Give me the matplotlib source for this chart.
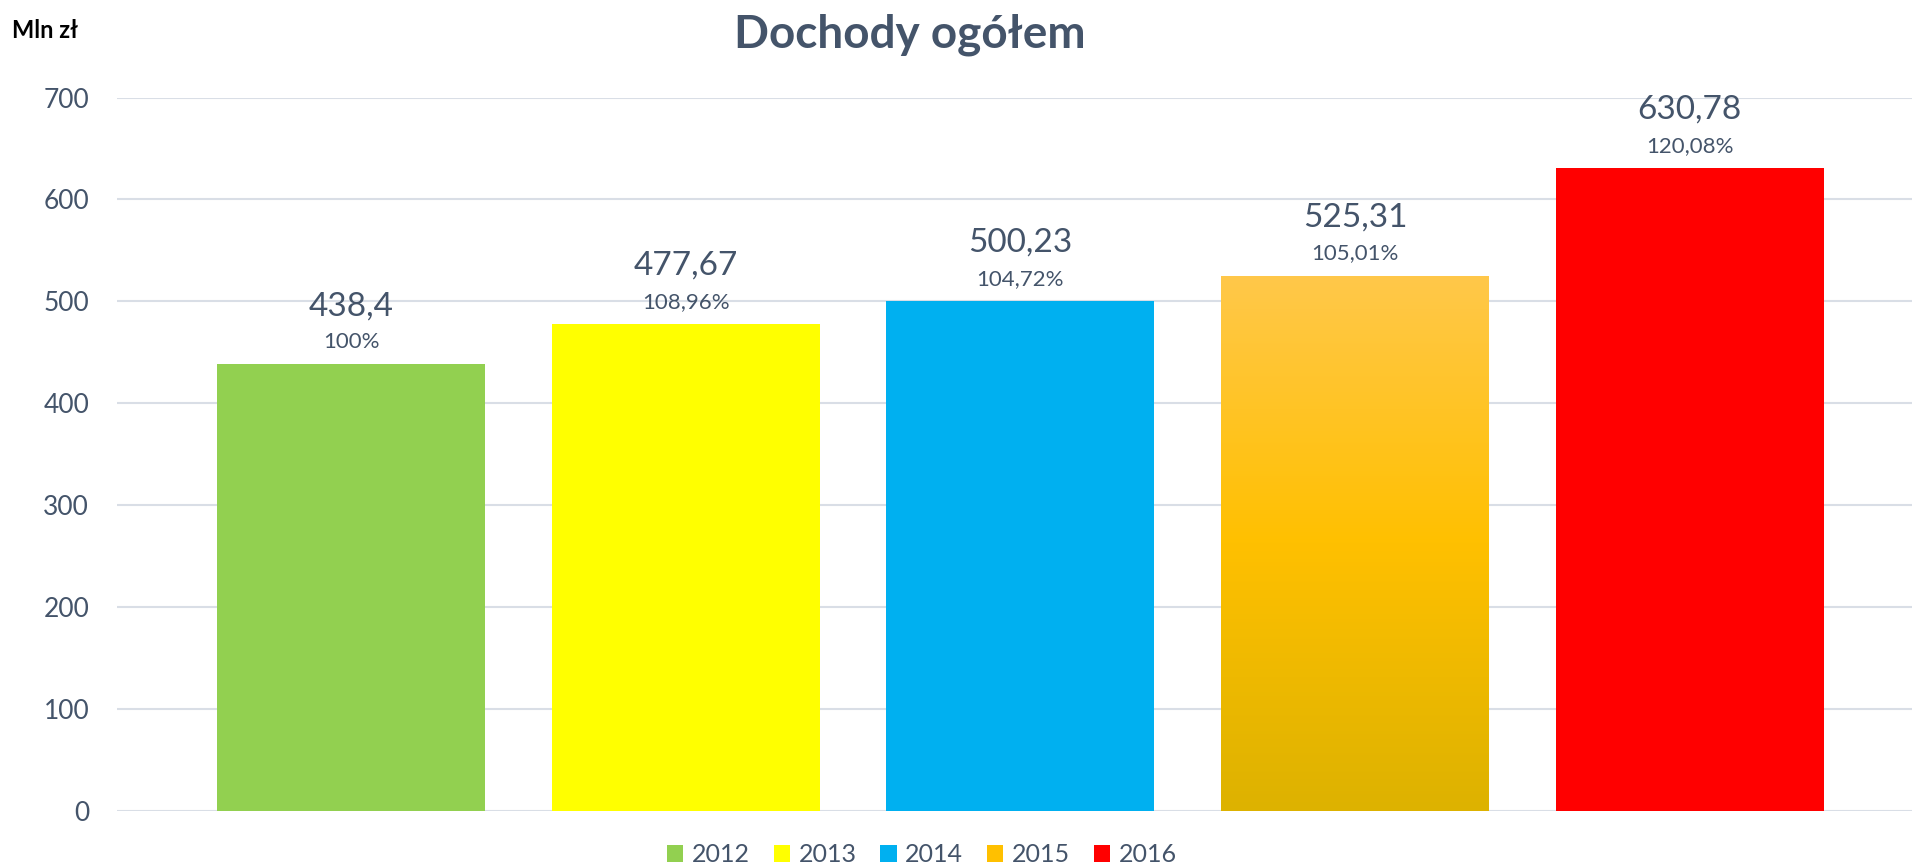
import numpy as np
import matplotlib
matplotlib.use("Agg")
import matplotlib.pyplot as plt
from matplotlib.patches import Patch
from matplotlib.colors import LinearSegmentedColormap

years = ["2012", "2013", "2014", "2015", "2016"]
values = [438.4, 477.67, 500.23, 525.31, 630.78]
value_labels = ["438,4", "477,67", "500,23", "525,31", "630,78"]
pct_labels = ["100%", "108,96%", "104,72%", "105,01%", "120,08%"]
colors = ["#92D050", "#FFFF00", "#00B0F0", "#FFC000", "#FF0000"]

text_col = "#44546A"
plt.rcParams["font.family"] = ["Lato", "DejaVu Sans"]

fig = plt.figure(figsize=(19.12, 8.68), dpi=100)
ax = fig.add_axes([117 / 1912, (868 - 811) / 868, (1912 - 117) / 1912, (811 - 97.5) / 868])

x = np.arange(len(years))
bars = ax.bar(x, values, width=0.8, color=colors, zorder=2)

# gradient fill for 2015
grad = LinearSegmentedColormap.from_list("g", ["#DDB200", "#FFC000", "#FFC84A"])
b = bars[3]
b.set_facecolor("none")
img = ax.imshow(np.linspace(0, 1, 256).reshape(-1, 1), cmap=grad, origin="lower",
                aspect="auto", extent=[b.get_x(), b.get_x() + b.get_width(), 0, b.get_height()],
                zorder=2)
img.set_clip_path(b)

for i, v in enumerate(values):
    ax.text(x[i], v + 57, value_labels[i], ha="center", va="center", fontsize=24, color=text_col)
    ax.text(x[i], v + 22, pct_labels[i], ha="center", va="center", fontsize=16, color=text_col)

ax.set_xlim(-0.699, 4.664)
ax.set_ylim(0, 700)
ax.set_yticks(range(0, 701, 100))
ax.yaxis.grid(True, color="#D9DEE6", linewidth=1.5, zorder=0)
ax.set_axisbelow(True)
ax.set_xticks([])
ax.tick_params(axis="y", length=0, labelsize=19, labelcolor=text_col, pad=20)
for s in ax.spines.values():
    s.set_visible(False)

fig.text(910 / 1912, 1 - 35 / 868, "Dochody ogółem", ha="center", va="center",
         fontsize=33, fontweight="bold", color=text_col)
fig.text(12 / 1912, 1 - 30 / 868, "Mln zł", ha="left", va="center",
         fontsize=17, fontweight="bold", color="black")

handles = [Patch(facecolor=c) for c in colors]
fig.legend(handles, years, loc="center", bbox_to_anchor=(922 / 1912, 1 - 855 / 868),
           ncol=5, frameon=False, fontsize=18, labelcolor=text_col,
           handlelength=0.65, handleheight=0.65, handletextpad=0.35, columnspacing=0.95)

fig.savefig("out.png", dpi=100)
